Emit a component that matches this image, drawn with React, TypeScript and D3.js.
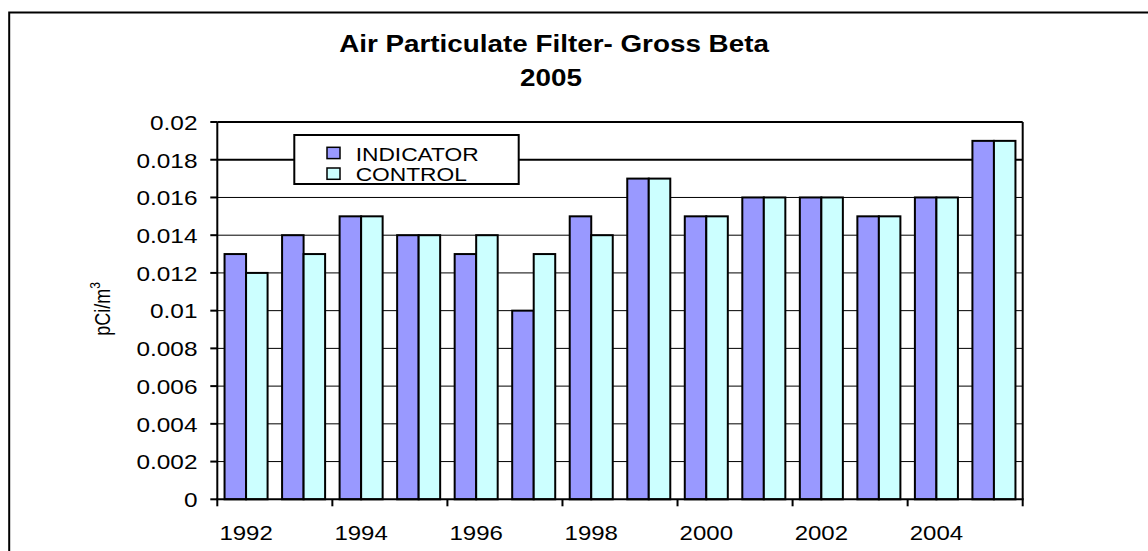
import React from "react";
import * as d3 from "d3";

const years = ["1992","1993","1994","1995","1996","1997","1998","1999","2000","2001","2002","2003","2004","2005"];
const indicator = [0.013,0.014,0.015,0.014,0.013,0.010,0.015,0.017,0.015,0.016,0.016,0.015,0.016,0.019];
const control = [0.012,0.013,0.015,0.014,0.014,0.013,0.014,0.017,0.015,0.016,0.016,0.015,0.016,0.019];
const seriesNames = ["INDICATOR","CONTROL"];
const seriesColors = ["#9999FF","#CCFFFF"];
const yTicks = [0,0.002,0.004,0.006,0.008,0.01,0.012,0.014,0.016,0.018,0.02];
const xLabelYears = ["1992","1994","1996","1998","2000","2002","2004"];
const titleLines = ["Air Particulate Filter- Gross Beta","2005"];

const FONT = "'Liberation Sans', Arial, Helvetica, sans-serif";

function SText({ x, y, sx = 1.17, size, anchor = "start", weight = "normal", children }: any) {
  return (
    <text
      transform={`translate(${x},${y}) scale(${sx},1)`}
      fontFamily={FONT}
      fontSize={size}
      fontWeight={weight}
      textAnchor={anchor}
      fill="#000"
    >
      {children}
    </text>
  );
}

export default function App() {
  const W = 1148, H = 551;
  const left = 217.3, right = 1022.7, top = 122, bottom = 499.3;

  const x = d3.scaleBand<string>().domain(years).range([left, right]).paddingInner(0).paddingOuter(0);
  const inner = d3.scaleBand<string>().domain(seriesNames).range([0, x.bandwidth()]).paddingInner(0).paddingOuter(0.337);
  const y = d3.scaleLinear().domain([0, 0.02]).range([bottom, top]);
  const fmt = (v: number) => (v === 0 ? "0" : String(+v.toFixed(3)));

  const series = [indicator, control];

  return (
    <svg width={W} height={H} style={{ position: "absolute", left: 0, top: 0, display: "block", background: "#fff" }}>
      <rect x={0} y={0} width={W} height={H} fill="#fff" />
      {/* outer frame */}
      <rect x={9.2} y={12.5} width={W + 20} height={H + 20} fill="#fff" stroke="#000" strokeWidth={2} />

      {/* title */}
      <SText x={554} y={52} size={23} sx={1.21} anchor="middle" weight="bold">{titleLines[0]}</SText>
      <SText x={551} y={86} size={23} sx={1.21} anchor="middle" weight="bold">{titleLines[1]}</SText>

      {/* gridlines */}
      {yTicks.filter(t => t > 0 && t < 0.02).map(t => (
        <line key={"g" + t} x1={left} x2={right} y1={y(t)} y2={y(t)} stroke="#000" strokeWidth={Math.abs(t - 0.018) < 1e-9 ? 2 : 1} />
      ))}

      {/* bars */}
      {years.map((yr, i) => (
        <g key={yr}>
          {series.map((vals, s) => (
            <rect
              key={s}
              x={(x(yr) as number) + (inner(seriesNames[s]) as number)}
              y={y(vals[i])}
              width={inner.bandwidth()}
              height={y(0) - y(vals[i])}
              fill={seriesColors[s]}
              stroke="#000"
              strokeWidth={2}
            />
          ))}
        </g>
      ))}

      {/* plot border */}
      <line x1={left} x2={right} y1={top} y2={top} stroke="#000" strokeWidth={2} />
      <line x1={right} x2={right} y1={top} y2={bottom} stroke="#000" strokeWidth={2} />
      <line x1={left} x2={left} y1={top} y2={bottom} stroke="#000" strokeWidth={2} />
      <line x1={left - 1} x2={right + 1} y1={bottom} y2={bottom} stroke="#000" strokeWidth={2} />

      {/* y ticks */}
      {yTicks.map(t => (
        <g key={"yt" + t}>
          <line x1={left - 7} x2={left} y1={y(t)} y2={y(t)} stroke="#000" strokeWidth={2} />
          <SText x={197.5} y={y(t) + 7.8} size={20} sx={1.22} anchor="end">{fmt(t)}</SText>
        </g>
      ))}

      {/* x ticks at every other boundary */}
      {years.concat(["end"]).map((yr, i) => {
        if (i % 2 !== 0) return null;
        const bx = i < years.length ? (x(yr) as number) : right;
        return <line key={"xt" + i} x1={bx} x2={bx} y1={bottom} y2={bottom + 7} stroke="#000" strokeWidth={2} />;
      })}
      {xLabelYears.map(yr => (
        <SText key={"xl" + yr} x={(x(yr) as number) + x.bandwidth() / 2} y={540} size={20} sx={1.2} anchor="middle">{yr}</SText>
      ))}

      {/* y axis title */}
      <text
        transform={`translate(110,309) rotate(-90) scale(1,1.25)`}
        fontFamily={FONT}
        fontSize={18}
        textAnchor="middle"
        fill="#000"
      >
        pCi/m<tspan fontSize={12} dy={-8}>3</tspan>
      </text>

      {/* legend */}
      <rect x={294.3} y={135} width={224.4} height={49} fill="#fff" stroke="#000" strokeWidth={2} />
      {seriesNames.map((n, i) => (
        <g key={"lg" + n}>
          <rect x={327} y={147.3 + i * 20.7} width={13} height={11.3} fill={seriesColors[i]} stroke="#000" strokeWidth={1.5} />
          <SText x={355.7} y={160.5 + i * 20.8} size={18.5} sx={1.23}>{n}</SText>
        </g>
      ))}
    </svg>
  );
}
